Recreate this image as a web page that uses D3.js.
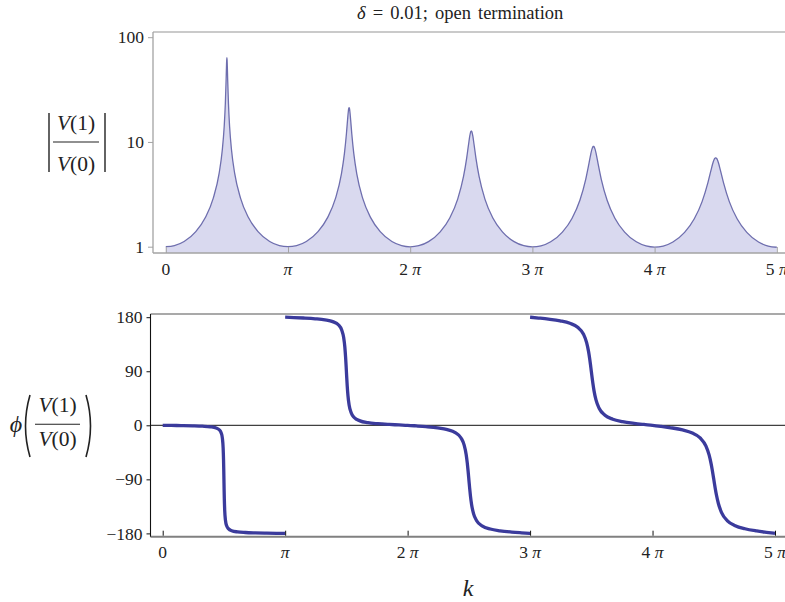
<!DOCTYPE html>
<html>
<head>
<meta charset="utf-8">
<script src="https://cdn.jsdelivr.net/npm/d3@7"></script>
<style>
  html, body { margin: 0; padding: 0; background: #fff; }
  svg { display: block; }
  text { font-family: "Liberation Serif", "Times New Roman", "DejaVu Serif", serif; }
</style>
</head>
<body>
<svg id="chart" width="785" height="602"></svg>
<script>
// ---------------- data ----------------
const titleText = ["δ", " = 0.01; open termination"];

// wavenumber samples k and |V(1)/V(0)|
const kMag = [
  0,
  0.2208, 0.4708, 0.7708, 1.0208, 1.2208, 1.3708, 1.4508, 1.5008, 1.5308, 1.5508, 1.5608, 1.5658, 1.5708,
  1.5758, 1.5808, 1.5908, 1.6108, 1.6408, 1.6908, 1.7708, 1.9208, 2.1208, 2.3708, 2.6708, 2.9208,
  3.1416,
  3.3624, 3.6124, 3.9124, 4.1624, 4.3624, 4.5124, 4.5924, 4.6424, 4.6724, 4.6924, 4.7024, 4.7074, 4.7124,
  4.7174, 4.7224, 4.7324, 4.7524, 4.7824, 4.8324, 4.9124, 5.0624, 5.2624, 5.5124, 5.8124, 6.0624,
  6.2832,
  6.5040, 6.7540, 7.0540, 7.3040, 7.5040, 7.6540, 7.7340, 7.7840, 7.8140, 7.8340, 7.8440, 7.8490, 7.8540,
  7.8590, 7.8640, 7.8740, 7.8940, 7.9240, 7.9740, 8.0540, 8.2040, 8.4040, 8.6540, 8.9540, 9.2040,
  9.4248,
  9.6456, 9.8956, 10.1956, 10.4456, 10.6456, 10.7956, 10.8756, 10.9256, 10.9556, 10.9756, 10.9856, 10.9906, 10.9956,
  11.0006, 11.0056, 11.0156, 11.0356, 11.0656, 11.1156, 11.1956, 11.3456, 11.5456, 11.7956, 12.0956, 12.3456,
  12.5664,
  12.7872, 13.0372, 13.3372, 13.5872, 13.7872, 13.9372, 14.0172, 14.0672, 14.0972, 14.1172, 14.1272, 14.1322, 14.1372,
  14.1422, 14.1472, 14.1572, 14.1772, 14.2072, 14.2572, 14.3372, 14.4872, 14.6872, 14.9372, 15.2372, 15.4872,
  15.7080
];
const magnitude = [
  1.0,
  1.0247, 1.1219, 1.394, 1.912, 2.913, 5.018, 8.282, 13.95, 23.27, 39.32, 53.70, 60.66, 63.66,
  60.66, 53.70, 39.32, 23.27, 13.95, 8.282, 5.018, 2.913, 1.912, 1.394, 1.1219, 1.0247,
  0.9995,
  1.0237, 1.1205, 1.391, 1.905, 2.889, 4.898, 7.772, 11.86, 16.18, 19.53, 20.75, 21.09, 21.21,
  21.09, 20.75, 19.53, 16.18, 11.86, 7.772, 4.898, 2.889, 1.905, 1.391, 1.1205, 1.0237,
  0.998,
  1.0216, 1.1177, 1.386, 1.892, 2.843, 4.680, 6.982, 9.503, 11.34, 12.33, 12.62, 12.69, 12.72,
  12.69, 12.62, 12.33, 11.34, 9.503, 6.982, 4.680, 2.843, 1.892, 1.386, 1.1177, 1.0216,
  0.9956,
  1.0184, 1.1136, 1.378, 1.872, 2.776, 4.402, 6.146, 7.662, 8.531, 8.930, 9.039, 9.067, 9.076,
  9.067, 9.039, 8.930, 8.531, 7.662, 6.146, 4.402, 2.776, 1.872, 1.378, 1.1136, 1.0184,
  0.9922,
  1.0142, 1.1081, 1.368, 1.846, 2.695, 4.097, 5.388, 6.323, 6.786, 6.981, 7.033, 7.046, 7.050,
  7.046, 7.033, 6.981, 6.786, 6.323, 5.388, 4.097, 2.695, 1.846, 1.368, 1.1081, 1.0142,
  0.9878
];

// phase of V(1)/V(0) in degrees, three branches
const kPhaseA = [
  0,
  0.2208, 0.4708, 0.7708, 1.0208, 1.2208, 1.3708, 1.4508, 1.5008, 1.5308, 1.5508, 1.5608, 1.5658, 1.5708,
  1.5758, 1.5808, 1.5908, 1.6108, 1.6408, 1.6908, 1.7708, 1.9208, 2.1208, 2.3708, 2.6708, 2.9208,
  3.1416
];
const phaseA = [
  0,
  -0.20, -0.46, -0.87, -1.47, -2.46, -4.43, -7.42, -12.63, -21.43, -38.14, -57.52, -72.34, -90,
  -107.66, -122.48, -141.86, -158.57, -167.37, -172.58, -175.57, -177.54, -178.53, -179.13, -179.54, -179.80,
  -180
];
const kPhaseB = [
  3.1416,
  3.3624, 3.6124, 3.9124, 4.1624, 4.3624, 4.5124, 4.5924, 4.6424, 4.6724, 4.6924, 4.7024, 4.7074, 4.7124,
  4.7174, 4.7224, 4.7324, 4.7524, 4.7824, 4.8324, 4.9124, 5.0624, 5.2624, 5.5124, 5.8124, 6.0624,
  6.2832,
  6.5040, 6.7540, 7.0540, 7.3040, 7.5040, 7.6540, 7.7340, 7.7840, 7.8140, 7.8340, 7.8440, 7.8490, 7.8540,
  7.8590, 7.8640, 7.8740, 7.8940, 7.9240, 7.9740, 8.0540, 8.2040, 8.4040, 8.6540, 8.9540, 9.2040,
  9.4248
];
const phaseB = [
  180,
  179.39, 178.63, 177.38, 175.61, 172.65, 166.92, 158.67, 146.11, 130.36, 113.02, 101.99, 96.06, 90,
  83.94, 78.01, 66.98, 49.64, 33.89, 21.33, 13.08, 7.35, 4.39, 2.62, 1.37, 0.61,
  0,
  -1.01, -2.28, -4.35, -7.29, -12.12, -21.14, -33.03, -48.18, -62.97, -75.68, -82.73, -86.35, -90,
  -93.65, -97.27, -104.32, -117.03, -131.82, -146.97, -158.86, -167.88, -172.71, -175.65, -177.72, -178.99,
  -180
];
const kPhaseC = [
  9.4248,
  9.6456, 9.8956, 10.1956, 10.4456, 10.6456, 10.7956, 10.8756, 10.9256, 10.9556, 10.9756, 10.9856, 10.9906, 10.9956,
  11.0006, 11.0056, 11.0156, 11.0356, 11.0656, 11.1156, 11.1956, 11.3456, 11.5456, 11.7956, 12.0956, 12.3456,
  12.5664,
  12.7872, 13.0372, 13.3372, 13.5872, 13.7872, 13.9372, 14.0172, 14.0672, 14.0972, 14.1172, 14.1272, 14.1322, 14.1372,
  14.1422, 14.1472, 14.1572, 14.1772, 14.2072, 14.2572, 14.3372, 14.4872, 14.6872, 14.9372, 15.2372, 15.4872,
  15.7080
];
const phaseC = [
  180,
  178.59, 176.81, 173.93, 169.87, 163.30, 151.62, 137.75, 122.63, 110.07, 100.35, 95.22, 92.61, 90,
  87.39, 84.78, 79.65, 69.93, 57.37, 42.25, 28.38, 16.70, 10.13, 6.07, 3.19, 1.41,
  0,
  -1.81, -4.09, -7.77, -12.91, -21.05, -34.71, -49.35, -63.47, -74.09, -81.89, -85.93, -87.96, -90,
  -92.04, -94.07, -98.11, -105.91, -116.53, -130.65, -145.29, -158.95, -167.09, -172.23, -175.91, -178.19,
  -180
];

// ticks
const kTickMultiples = [0, 1, 2, 3, 4, 5];          // multiples of pi
const kTickLabels = [["0", ""], ["", "π"], ["2 ", "π"], ["3 ", "π"], ["4 ", "π"], ["5 ", "π"]];
const magTicks = [1, 10, 100];
const magTickLabels = ["1", "10", "100"];
const phaseTicks = [180, 90, 0, -90, -180];
const phaseTickLabels = ["180", "90", "0", "−90", "−180"];

// ---------------- drawing ----------------
const svg = d3.select("#chart");
const W = 785;
const fontTick = 17.5;
const serif = "'Liberation Serif', 'Times New Roman', serif";

// ===== Top panel =====
const topP = { left: 153, right: W, top: 32, bottom: 253 };
const xTop = d3.scaleLinear().domain([0, 5 * Math.PI]).range([165.8, 776.8]);
const yTop = d3.scaleLog().domain([1, 100]).range([246.7, 37.2]);

const magData = kMag.map((k, i) => ({ k, v: magnitude[i] }));

svg.append("path")
  .datum(magData)
  .attr("fill", "#d9d9ef")
  .attr("stroke", "none")
  .attr("d", d3.area().x(d => xTop(d.k)).y0(topP.bottom).y1(d => yTop(d.v)).curve(d3.curveMonotoneX));
svg.append("path")
  .datum(magData)
  .attr("fill", "none")
  .attr("stroke", "#6e6eae")
  .attr("stroke-width", 1.3)
  .attr("d", d3.line().x(d => xTop(d.k)).y(d => yTop(d.v)).curve(d3.curveMonotoneX));

const grayAxis = "#a3a3a3";
svg.append("line").attr("x1", topP.left).attr("x2", topP.right).attr("y1", topP.top).attr("y2", topP.top)
  .attr("stroke", "#b8b8b8").attr("stroke-width", 1.3);
svg.append("line").attr("x1", topP.left).attr("x2", topP.right).attr("y1", topP.bottom).attr("y2", topP.bottom)
  .attr("stroke", grayAxis).attr("stroke-width", 1.3);
svg.append("line").attr("x1", topP.left).attr("x2", topP.left).attr("y1", topP.top).attr("y2", topP.bottom)
  .attr("stroke", grayAxis).attr("stroke-width", 1.3);

const gTopY = svg.append("g").attr("transform", `translate(${topP.left},0)`)
  .call(d3.axisLeft(yTop).tickValues(magTicks).tickSize(5).tickPadding(4)
    .tickFormat((d, i) => magTickLabels[i]));
gTopY.attr("font-family", serif);
gTopY.select(".domain").remove();
gTopY.selectAll(".tick line").attr("stroke", grayAxis);
gTopY.selectAll(".tick text").attr("font-size", fontTick).attr("fill", "#222").attr("font-family", serif);

const gTopX = svg.append("g").attr("transform", `translate(0,${topP.bottom})`)
  .call(d3.axisBottom(xTop).tickValues(kTickMultiples.map(m => m * Math.PI)).tickSize(-6).tickFormat(""));
gTopX.select(".domain").remove();
gTopX.selectAll(".tick line").attr("stroke", grayAxis);

function piLabels(g, xs, yBase) {
  kTickMultiples.forEach((m, i) => {
    const t = g.append("text")
      .attr("x", xs(m * Math.PI))
      .attr("y", yBase)
      .attr("text-anchor", "middle")
      .attr("font-size", fontTick)
      .attr("font-family", serif)
      .attr("fill", "#222");
    t.append("tspan").text(kTickLabels[i][0]);
    if (kTickLabels[i][1]) t.append("tspan").attr("font-style", "italic").text(kTickLabels[i][1]);
  });
}
piLabels(svg.append("g"), xTop, 275);

const title = svg.append("text").attr("x", 357).attr("y", 19).attr("font-size", 18.5)
  .attr("font-family", serif).attr("fill", "#222");
title.append("tspan").attr("font-style", "italic").text(titleText[0]);
title.append("tspan").attr("word-spacing", 2.5).text(titleText[1]);

const lab1 = svg.append("g").attr("font-family", serif);
lab1.append("text").attr("x", 76).attr("y", 130).attr("text-anchor", "middle").attr("font-size", 21.5)
  .attr("fill", "#222").html('<tspan font-style="italic">V</tspan>(1)');
lab1.append("text").attr("x", 76).attr("y", 171).attr("text-anchor", "middle").attr("font-size", 21.5)
  .attr("fill", "#222").html('<tspan font-style="italic">V</tspan>(0)');
lab1.append("line").attr("x1", 53).attr("x2", 99).attr("y1", 142).attr("y2", 142).attr("stroke", "#222").attr("stroke-width", 1.1);
lab1.append("line").attr("x1", 49).attr("x2", 49).attr("y1", 113).attr("y2", 172).attr("stroke", "#222").attr("stroke-width", 1.4);
lab1.append("line").attr("x1", 105).attr("x2", 105).attr("y1", 113).attr("y2", 172).attr("stroke", "#222").attr("stroke-width", 1.4);

// ===== Bottom panel =====
const botP = { left: 150.5, right: W, top: 314, bottom: 536.7 };
const xBot = d3.scaleLinear().domain([0, 5 * Math.PI]).range([162.7, 775]);
const yBot = d3.scaleLinear().domain([-180, 180]).range([533.4, 317.2]);

svg.append("line").attr("x1", botP.left).attr("x2", botP.right).attr("y1", botP.top).attr("y2", botP.top)
  .attr("stroke", "#555").attr("stroke-width", 1.2);
svg.append("line").attr("x1", botP.left).attr("x2", botP.right).attr("y1", yBot(0)).attr("y2", yBot(0))
  .attr("stroke", "#111").attr("stroke-width", 1);

const phaseColor = "#3b3b9c";
const phaseLine = d3.line().x(d => xBot(d.k)).y(d => yBot(d.v)).curve(d3.curveMonotoneX);
[[kPhaseA, phaseA], [kPhaseB, phaseB], [kPhaseC, phaseC]].forEach(([ks, vs]) => {
  svg.append("path")
    .datum(ks.map((k, i) => ({ k, v: vs[i] })))
    .attr("fill", "none")
    .attr("stroke", phaseColor)
    .attr("stroke-width", 3.3)
    .attr("stroke-linejoin", "round")
    .attr("d", phaseLine);
});

svg.append("line").attr("x1", botP.left).attr("x2", botP.right).attr("y1", botP.bottom).attr("y2", botP.bottom)
  .attr("stroke", "#808080").attr("stroke-width", 2);
svg.append("line").attr("x1", botP.left).attr("x2", botP.left).attr("y1", botP.top).attr("y2", botP.bottom)
  .attr("stroke", "#111").attr("stroke-width", 1.1);

const gBotY = svg.append("g").attr("transform", `translate(${botP.left},0)`)
  .call(d3.axisLeft(yBot).tickValues(phaseTicks).tickSize(4).tickPadding(4)
    .tickFormat((d, i) => phaseTickLabels[i]));
gBotY.attr("font-family", serif);
gBotY.select(".domain").remove();
gBotY.selectAll(".tick line").attr("stroke", "#111");
gBotY.selectAll(".tick text").attr("font-size", fontTick).attr("fill", "#222").attr("font-family", serif);

const gBotX = svg.append("g").attr("transform", `translate(0,${botP.bottom - 1})`)
  .call(d3.axisBottom(xBot).tickValues(kTickMultiples.map(m => m * Math.PI)).tickSize(-5).tickFormat(""));
gBotX.select(".domain").remove();
gBotX.selectAll(".tick line").attr("stroke", "#111");
piLabels(svg.append("g"), xBot, 558);

const lab2 = svg.append("g").attr("font-family", serif);
lab2.append("text").attr("x", 16).attr("y", 432).attr("text-anchor", "middle").attr("font-size", 24)
  .attr("font-style", "italic").attr("fill", "#222").text("ϕ");
lab2.append("text").attr("x", 57.5).attr("y", 412).attr("text-anchor", "middle").attr("font-size", 21.5)
  .attr("fill", "#222").html('<tspan font-style="italic">V</tspan>(1)');
lab2.append("text").attr("x", 57.5).attr("y", 446).attr("text-anchor", "middle").attr("font-size", 21.5)
  .attr("fill", "#222").html('<tspan font-style="italic">V</tspan>(0)');
lab2.append("line").attr("x1", 35).attr("x2", 80).attr("y1", 424.3).attr("y2", 424.3).attr("stroke", "#222").attr("stroke-width", 1.1);
lab2.append("path").attr("d", "M30,395 Q21,426 30,457").attr("fill", "none").attr("stroke", "#222").attr("stroke-width", 1.6);
lab2.append("path").attr("d", "M86,395 Q95,426 86,457").attr("fill", "none").attr("stroke", "#222").attr("stroke-width", 1.6);

svg.append("text").attr("x", 468).attr("y", 596).attr("text-anchor", "middle").attr("font-size", 24)
  .attr("font-family", serif).attr("font-style", "italic").attr("fill", "#222").text("k");
</script>
</body>
</html>
